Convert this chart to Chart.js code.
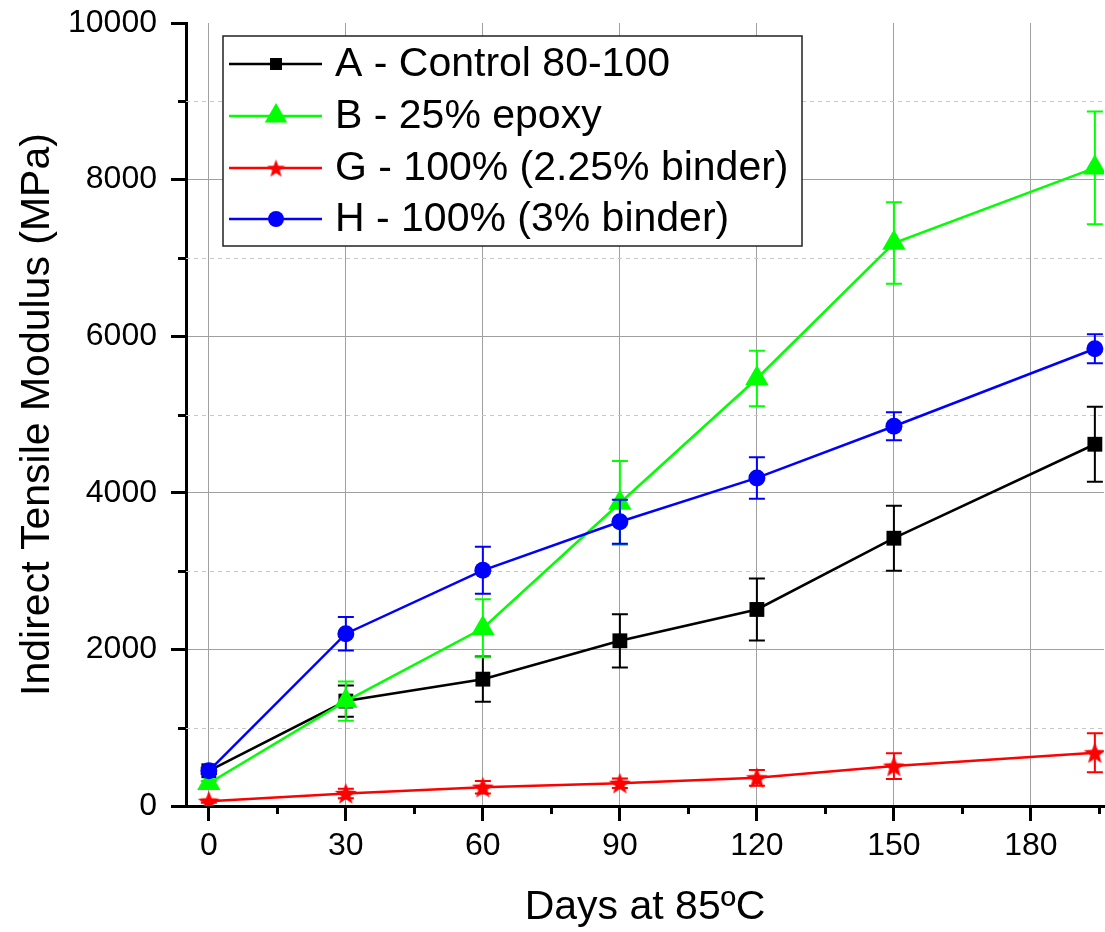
<!DOCTYPE html>
<html>
<head>
<meta charset="utf-8">
<style>
  html, body { margin: 0; padding: 0; background: #fff; overflow: hidden; }
  canvas { display: block; }
</style>
</head>
<body>
<canvas id="modulusChart" width="1105" height="932"></canvas>
<script src="https://cdn.jsdelivr.net/npm/chart.js"></script>
<script>
  // days of ageing
  const days = [0, 30, 60, 90, 120, 150, 194];

  const labels = ["A - Control 80-100", "B - 25% epoxy", "G - 100% (2.25% binder)", "H - 100% (3% binder)"];

  // modulus values (MPa) and +/- error
  const controlA = [450, 1340, 1620, 2110, 2510, 3420, 4620];
  const controlErr = [40, 200, 290, 340, 395, 415, 480];
  const epoxyB = [290, 1340, 2270, 3870, 5460, 7190, 8150];
  const epoxyErr = [30, 250, 370, 535, 355, 520, 720];
  const binderG = [60, 160, 240, 290, 360, 510, 680];
  const binderGErr = [20, 60, 80, 60, 100, 165, 250];
  const binderH = [450, 2200, 3010, 3630, 4190, 4850, 5840];
  const binderHErr = [40, 215, 300, 280, 265, 180, 185];

  const xTicks = [0, 15, 30, 45, 60, 75, 90, 105, 120, 135, 150, 165, 180, 195];
  const xLabels = [0, 30, 60, 90, 120, 150, 180];
  const yTicks = [0, 1000, 2000, 3000, 4000, 5000, 6000, 7000, 8000, 9000, 10000];
  const yLabels = [0, 2000, 4000, 6000, 8000, 10000];

  const FONT = "'Liberation Sans', Arial, sans-serif";

  function makeStar(size, color) {
    const c = document.createElement('canvas');
    c.width = size; c.height = size;
    const g = c.getContext('2d');
    const R = size / 2, r = R * 0.42;
    g.beginPath();
    for (let i = 0; i < 10; i++) {
      const rad = i % 2 ? r : R;
      const a = -Math.PI / 2 + i * Math.PI / 5;
      g.lineTo(R + rad * Math.cos(a), R + 1 + rad * Math.sin(a));
    }
    g.closePath();
    g.fillStyle = color;
    g.fill();
    return c;
  }
  const star = makeStar(23, '#ff0000');
  const starSmall = makeStar(19, '#ff0000');

  const toPts = (vals) => vals.map((v, i) => ({ x: days[i], y: v }));

  function series(label, vals, errs, color, style, radius, order) {
    return {
      label: label,
      data: toPts(vals),
      errors: errs,
      borderColor: color,
      backgroundColor: color,
      pointBackgroundColor: color,
      pointBorderColor: color,
      pointBorderWidth: 0,
      pointStyle: style,
      pointRadius: radius,
      borderWidth: 2.5,
      tension: 0,
      order: order
    };
  }

  // draws the error bars under each series
  const errorBars = {
    id: 'errorBars',
    beforeDatasetDraw(chart, args) {
      const ds = chart.data.datasets[args.index];
      const y = chart.scales.y;
      const ctx = chart.ctx;
      ctx.save();
      ctx.strokeStyle = ds.borderColor;
      ctx.lineWidth = 2;
      args.meta.data.forEach((pt, i) => {
        const v = ds.data[i].y, e = ds.errors[i];
        const top = y.getPixelForValue(v + e), bot = y.getPixelForValue(v - e);
        ctx.beginPath();
        ctx.moveTo(pt.x, top); ctx.lineTo(pt.x, bot);
        ctx.moveTo(pt.x - 8, top); ctx.lineTo(pt.x + 8, top);
        ctx.moveTo(pt.x - 8, bot); ctx.lineTo(pt.x + 8, bot);
        ctx.stroke();
      });
      ctx.restore();
    }
  };

  // dashed minor grid + short minor ticks
  const minorGrid = {
    id: 'minorGrid',
    beforeDatasetsDraw(chart) {
      const { ctx, chartArea, scales: { x, y } } = chart;
      ctx.save();
      ctx.strokeStyle = '#c8c8c8';
      ctx.lineWidth = 1;
      ctx.setLineDash([4, 4]);
      yTicks.filter(v => !yLabels.includes(v)).forEach(v => {
        const py = Math.round(y.getPixelForValue(v)) + 0.5;
        ctx.beginPath();
        ctx.moveTo(chartArea.left, py); ctx.lineTo(chartArea.right, py);
        ctx.stroke();
      });
      ctx.setLineDash([]);
      ctx.strokeStyle = '#000';
      ctx.lineWidth = 3;
      yTicks.filter(v => !yLabels.includes(v)).forEach(v => {
        const py = Math.round(y.getPixelForValue(v)) + 0.5;
        ctx.beginPath();
        ctx.moveTo(chartArea.left - 8, py); ctx.lineTo(chartArea.left, py);
        ctx.stroke();
      });
      xTicks.filter(v => !xLabels.includes(v)).forEach(v => {
        const px = Math.round(x.getPixelForValue(v)) + 0.5;
        ctx.beginPath();
        ctx.moveTo(px, chartArea.bottom); ctx.lineTo(px, chartArea.bottom + 8);
        ctx.stroke();
      });
      ctx.restore();
    }
  };

  const boxLegend = {
    id: 'boxLegend',
    afterDraw(chart) {
      const ctx = chart.ctx;
      const left = 223, top = 36, w = 579, h = 210;
      ctx.save();
      ctx.fillStyle = '#fff';
      ctx.fillRect(left, top, w, h);
      ctx.strokeStyle = '#222';
      ctx.lineWidth = 1.5;
      ctx.strokeRect(left, top, w, h);
      const rowY = [64, 116, 168, 219];
      const legendPt = [
        { pointStyle: 'rect', radius: 8.5 },
        { pointStyle: 'triangle', radius: 13 },
        { pointStyle: starSmall, radius: 8 },
        { pointStyle: 'circle', radius: 8 }
      ];
      chart.data.datasets.forEach((ds, i) => {
        const yy = rowY[i];
        ctx.strokeStyle = ds.borderColor;
        ctx.lineWidth = 2.5;
        ctx.beginPath();
        ctx.moveTo(229, yy); ctx.lineTo(322, yy);
        ctx.stroke();
        ctx.fillStyle = ds.borderColor;
        Chart.helpers.drawPoint(ctx, { pointStyle: legendPt[i].pointStyle, radius: legendPt[i].radius, rotation: 0, borderWidth: 0 }, 276, yy);
        ctx.fillStyle = '#000';
        ctx.font = '41px ' + FONT;
        ctx.textBaseline = 'middle';
        ctx.textAlign = 'left';
        ctx.fillText(ds.label, 335, yy + 1);
      });
      ctx.restore();
    }
  };

  const noEdgePadding = s => { s.paddingTop = 0; s.paddingBottom = 0; s.paddingLeft = 0; s.paddingRight = 0; };

  new Chart(document.getElementById('modulusChart'), {
    type: 'line',
    data: {
      datasets: [
        series(labels[0], controlA, controlErr, '#000000', 'rect', 10.5, 4),
        series(labels[1], epoxyB, epoxyErr, '#00ff00', 'triangle', 13.5, 3),
        series(labels[2], binderG, binderGErr, '#ff0000', star, 10, 2),
        series(labels[3], binderH, binderHErr, '#0000ff', 'circle', 8.5, 1)
      ]
    },
    options: {
      responsive: false,
      animation: false,
      devicePixelRatio: 1,
      layout: { autoPadding: false, padding: { top: 23, right: 1, bottom: 0, left: 0 } },
      plugins: { legend: { display: false }, tooltip: { enabled: false } },
      scales: {
        x: {
          type: 'linear',
          min: -5,
          max: 196,
          afterBuildTicks: s => { s.ticks = xTicks.map(v => ({ value: v })); },
          afterFit: s => { s.height = 126; noEdgePadding(s); },
          border: { color: '#000', width: 3 },
          grid: {
            color: c => (c.tick && xLabels.includes(c.tick.value)) ? '#a0a0a0' : 'rgba(0,0,0,0)',
            lineWidth: 1,
            tickLength: 15,
            tickWidth: 3,
            tickColor: c => (c.tick && xLabels.includes(c.tick.value)) ? '#000' : 'rgba(0,0,0,0)'
          },
          ticks: {
            autoSkip: false,
            maxRotation: 0,
            padding: 6,
            color: '#000',
            font: { family: FONT, size: 32 },
            callback: v => xLabels.includes(v) ? String(v) : ''
          },
          title: {
            display: true,
            text: 'Days at 85ºC',
            color: '#000',
            font: { family: FONT, size: 41 },
            padding: { top: 0, bottom: 0 }
          }
        },
        y: {
          min: 0,
          max: 10000,
          afterBuildTicks: s => { s.ticks = yTicks.map(v => ({ value: v })); },
          afterFit: s => { s.width = 186; noEdgePadding(s); },
          border: { color: '#000', width: 3 },
          grid: {
            color: c => (c.tick && yLabels.includes(c.tick.value) && c.tick.value !== 10000 && c.tick.value !== 0) ? '#a0a0a0' : 'rgba(0,0,0,0)',
            lineWidth: 1,
            tickLength: 15,
            tickWidth: 3,
            tickColor: c => (c.tick && yLabels.includes(c.tick.value)) ? '#000' : 'rgba(0,0,0,0)'
          },
          ticks: {
            autoSkip: false,
            padding: 14,
            color: '#000',
            font: { family: FONT, size: 32 },
            callback: v => yLabels.includes(v) ? String(v) : ''
          },
          title: {
            display: true,
            text: 'Indirect Tensile Modulus (MPa)',
            color: '#000',
            font: { family: FONT, size: 41 },
            padding: { top: 13, bottom: 0 }
          }
        }
      }
    },
    plugins: [minorGrid, errorBars, boxLegend]
  });
</script>
</body>
</html>
